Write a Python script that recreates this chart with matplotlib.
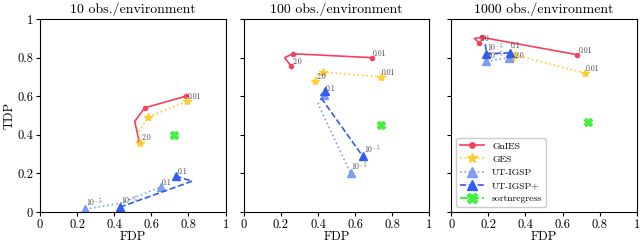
import matplotlib.pyplot as plt

plt.rcParams['font.family'] = 'serif'
plt.rcParams['font.serif'] = ['cmr10', 'DejaVu Serif']
plt.rcParams['mathtext.fontset'] = 'cm'
plt.rcParams['axes.unicode_minus'] = False
plt.rcParams['axes.formatter.use_mathtext'] = True

titles = ['10 obs./environment', '100 obs./environment', '1000 obs./environment']

# one list per panel; points along each curve (first point = first label)
gnies_x = [[0.785, 0.565, 0.51, 0.535], [0.69, 0.265, 0.22, 0.255], [0.68, 0.165, 0.125, 0.15]]
gnies_y = [[0.600, 0.540, 0.47, 0.365], [0.800, 0.820, 0.80, 0.755], [0.815, 0.905, 0.900, 0.875]]
ges_x = [[0.79, 0.58, 0.53, 0.54], [0.74, 0.425, 0.395, 0.385], [0.72, 0.34, 0.325]]
ges_y = [[0.575, 0.49, 0.41, 0.36], [0.70, 0.725, 0.71, 0.68], [0.72, 0.815, 0.80]]
utigsp_x = [[0.245, 0.43, 0.65], [0.43, 0.40, 0.575], [0.19, 0.31]]
utigsp_y = [[0.015, 0.045, 0.13], [0.605, 0.56, 0.20], [0.78, 0.80]]
utigsp_p_x = [[0.43, 0.82, 0.735], [0.435, 0.41, 0.64], [0.185, 0.185, 0.19, 0.315]]
utigsp_p_y = [[0.025, 0.16, 0.185], [0.625, 0.60, 0.29], [0.87, 0.86, 0.82, 0.825]]
sort_x = [0.72, 0.74, 0.735]
sort_y = [0.40, 0.45, 0.465]

# which points carry a marker
gnies_marks = [[0, 1, 3], [0, 1, 3], [0, 1, 3]]
ges_marks = [[0, 1, 3], [0, 1, 3], [0, 1, 2]]
utigsp_marks = [[0, 2], [0, 2], [0, 1]]
utigsp_p_marks = [[0, 2], [0, 2], [2, 3]]

# text labels (x, y, text)
labels = [
    [(0.79, 0.575, '0.01'), (0.54, 0.365, '2.0'), (0.735, 0.185, '0.1'), (0.65, 0.13, '0.1'),
     (0.245, 0.015, '$10^{-5}$'), (0.43, 0.025, '$10^{-5}$')],
    [(0.69, 0.80, '0.01'), (0.255, 0.755, '2.0'), (0.74, 0.70, '0.01'), (0.385, 0.68, '2.0'),
     (0.435, 0.615, '0.1'), (0.64, 0.29, '$10^{-5}$'), (0.575, 0.20, '$10^{-5}$')],
    [(0.68, 0.815, '0.01'), (0.15, 0.875, '2.0'), (0.72, 0.72, '0.01'), (0.335, 0.79, '2.0'),
     (0.315, 0.84, '0.1'), (0.19, 0.82, '$10^{-5}$'), (0.19, 0.775, '$10^{-5}$')],
]

red = '#f5415e'
gold = '#ffcc33'
lblue = '#6f91f2'
blue = '#2f5ef0'
green = '#44f040'

fig = plt.figure(figsize=(6.4, 2.44), dpi=100)
lefts = [0.0625, 0.381, 0.705]
axes = [fig.add_axes([l, 0.131, 0.29, 0.791]) for l in lefts]

for i, ax in enumerate(axes):
    ax.plot(gnies_x[i], gnies_y[i], '-', color=red, lw=1.2, marker='o', ms=3,
            markevery=gnies_marks[i], label='GnIES')
    ax.plot(ges_x[i], ges_y[i], ':', color=gold, lw=1.2, marker='*', ms=6,
            markevery=ges_marks[i], label='GES')
    ax.plot(utigsp_x[i], utigsp_y[i], ':', color=lblue, lw=1.2, marker='^', ms=6,
            markevery=utigsp_marks[i], alpha=0.85, label='UT-IGSP')
    ax.plot(utigsp_p_x[i], utigsp_p_y[i], '--', color=blue, lw=1.2, marker='^', ms=6,
            markevery=utigsp_p_marks[i], label='UT-IGSP+')
    ax.plot([sort_x[i]], [sort_y[i]], '--', color=green, marker='X', ms=6, label='sortnregress')
    for x, y, t in labels[i]:
        ax.text(x + 0.005, y, t, fontsize=5.5, color='#444444', va='bottom', ha='left')
    ax.set_xlim(0, 1)
    ax.set_ylim(0, 1)
    ax.set_xticks([0, 0.2, 0.4, 0.6, 0.8, 1])
    ax.set_xticklabels(['0', '0.2', '0.4', '0.6', '0.8', '1'])
    ax.set_yticks([0, 0.2, 0.4, 0.6, 0.8, 1])
    if i == 0:
        ax.set_yticklabels(['0', '0.2', '0.4', '0.6', '0.8', '1'])
        ax.set_ylabel('TDP', fontsize=9, labelpad=1)
    else:
        ax.set_yticklabels([])
    ax.tick_params(labelsize=9, length=3, pad=2)
    ax.set_xlabel('FDP', fontsize=9, labelpad=0)
    ax.set_title(titles[i], fontsize=10, pad=4)

axes[2].legend(loc='lower left', fontsize=7, markerscale=1.3, handlelength=2.5,
               framealpha=1, borderpad=0.4, labelspacing=0.45)

fig.savefig('out.png', dpi=100)
